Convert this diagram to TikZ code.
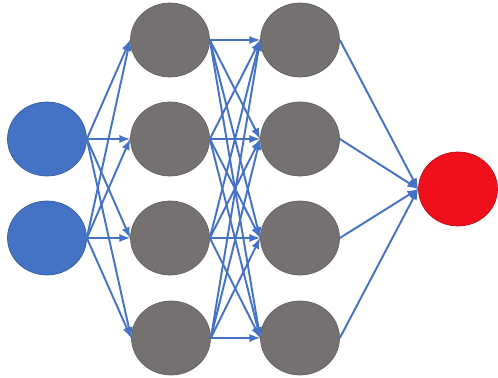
\documentclass[tikz,border=0pt]{standalone}
\usepackage{tikz}
\usetikzlibrary{shapes.geometric}
\definecolor{inblue}{RGB}{68,114,196}
\definecolor{hidgray}{RGB}{118,113,113}
\definecolor{outred}{RGB}{240,16,28}
\begin{document}
\begin{tikzpicture}[x=0.02cm,y=-0.02cm]
							\tikzstyle{every node}+=[inner sep=0pt]
							\tikzstyle{unit}=[ellipse,minimum width=1.58cm,minimum height=1.48cm]
							\tikzstyle{link}=[inblue,line width=1.1pt,->,>=latex]
							\useasboundingbox (0,0) rectangle (498,378);
							\node [unit,fill=inblue,draw=inblue!80!black] (i1) at (47,139) {};
							\node [unit,fill=inblue,draw=inblue!80!black] (i2) at (47,238) {};
							\node [unit,fill=hidgray,draw=hidgray!85!black] (a1) at (170,40) {};
							\node [unit,fill=hidgray,draw=hidgray!85!black] (a2) at (170,139) {};
							\node [unit,fill=hidgray,draw=hidgray!85!black] (a3) at (170,238) {};
							\node [unit,fill=hidgray,draw=hidgray!85!black] (a4) at (171,338) {};
							\node [unit,fill=hidgray,draw=hidgray!85!black] (b1) at (300,40) {};
							\node [unit,fill=hidgray,draw=hidgray!85!black] (b2) at (300,139) {};
							\node [unit,fill=hidgray,draw=hidgray!85!black] (b3) at (300,238) {};
							\node [unit,fill=hidgray,draw=hidgray!85!black] (b4) at (300,338) {};
							\node [unit,fill=outred,draw=outred!80!black] (o) at (458,189) {};
							\foreach \s in {i1,i2}
								\foreach \t in {a1,a2,a3,a4}
									\draw [link] (\s.east) -- (\t.west);
							\foreach \s in {a1,a2,a3,a4}
								\foreach \t in {b1,b2,b3,b4}
									\draw [link] (\s.east) -- (\t.west);
							\foreach \s in {b1,b2,b3,b4}
								\draw [link] (\s.east) -- (o.west);
						\end{tikzpicture}
\end{document}
